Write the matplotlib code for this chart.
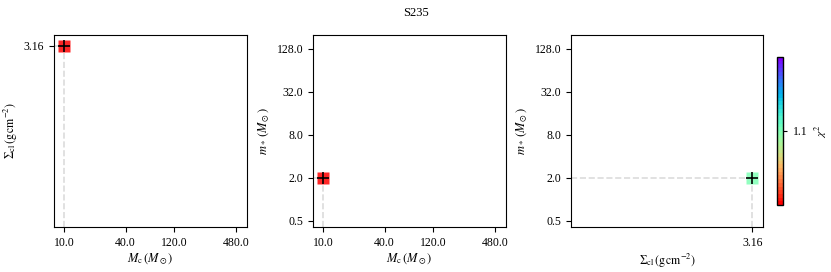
import matplotlib
matplotlib.use("Agg")
import matplotlib.pyplot as plt
import numpy as np
from matplotlib.colors import Normalize
from matplotlib.cm import ScalarMappable

plt.rcParams['font.family'] = ['Liberation Serif', 'DejaVu Serif']
plt.rcParams['mathtext.fontset'] = 'stix'
plt.rcParams['font.size'] = 8

title = "S235"
Mc = [10.0]
sigma_cl = [3.16]
mstar = [2.0]
chi2 = [1.1]

mc_ticks = [10.0, 40.0, 120.0, 480.0]
ms_ticks = [0.5, 2.0, 8.0, 32.0, 128.0]
sig_ticks = [3.16]
cb_ticks = [1.1]

mc_lim = (8.0, 615.0)
ms_lim = (0.41, 200.0)
sig_lim = (0.08, 3.93)

FS = 8.5

fig = plt.figure(figsize=(8.31, 2.72), dpi=100)
W, H = 831, 272
def pos(l, t, r, b):
    return [l / W, (H - b) / H, (r - l) / W, (b - t) / H]

ax1 = fig.add_axes(pos(54, 35, 247, 227))
ax2 = fig.add_axes(pos(313, 35, 506, 227))
ax3 = fig.add_axes(pos(571, 35, 763, 227))
cax = fig.add_axes(pos(777, 57, 783, 205))

cmap = plt.get_cmap('rainbow_r')
norm = Normalize(vmin=1.0, vmax=1.2)
dash = dict(color='#dcdcdc', ls='--', lw=1.2, zorder=1)

def style(ax, xt, yt, xlim, ylim):
    ax.set_xscale('log'); ax.set_yscale('log')
    ax.set_xlim(*xlim); ax.set_ylim(*ylim)
    ax.set_xticks(xt); ax.set_xticklabels([str(v) for v in xt])
    ax.set_yticks(yt); ax.set_yticklabels([str(v) for v in yt])
    ax.minorticks_off()
    ax.tick_params(labelsize=FS)

# Panel 1
style(ax1, mc_ticks, sig_ticks, mc_lim, sig_lim)
ax1.plot([Mc[0], Mc[0]], [sig_lim[0], sigma_cl[0]], **dash)
ax1.plot([mc_lim[0], Mc[0]], [sigma_cl[0], sigma_cl[0]], **dash)
ax1.plot(Mc, sigma_cl, 's', color=cmap(0.0), alpha=0.85, ms=8, mec='none', zorder=2)
ax1.plot(Mc, sigma_cl, '+', color='k', ms=9, mew=1.2, zorder=3)
ax1.set_xlabel(r'$M_{\rm c}\,(M_\odot)$', fontsize=9, labelpad=2)
ax1.set_ylabel(r'$\Sigma_{\rm cl}\,({\rm g\,cm^{-2}})$', fontsize=FS, labelpad=3)

# Panel 2
style(ax2, mc_ticks, ms_ticks, mc_lim, ms_lim)
ax2.plot([Mc[0], Mc[0]], [ms_lim[0], mstar[0]], **dash)
ax2.plot([mc_lim[0], Mc[0]], [mstar[0], mstar[0]], **dash)
ax2.plot(Mc, mstar, 's', color=cmap(0.0), alpha=0.85, ms=8, mec='none', zorder=2)
ax2.plot(Mc, mstar, '+', color='k', ms=9, mew=1.2, zorder=3)
ax2.set_xlabel(r'$M_{\rm c}\,(M_\odot)$', fontsize=9, labelpad=2)
ax2.set_ylabel(r'$m_*\,(M_\odot)$', fontsize=9, labelpad=3)

# Panel 3
style(ax3, sig_ticks, ms_ticks, sig_lim, ms_lim)
ax3.plot([sigma_cl[0], sigma_cl[0]], [ms_lim[0], mstar[0]], **dash)
ax3.plot([sig_lim[0], sigma_cl[0]], [mstar[0], mstar[0]], **dash)
ax3.plot(sigma_cl, mstar, 's', color=cmap(norm(chi2[0])), alpha=0.85, ms=8, mec='none', zorder=2)
ax3.plot(sigma_cl, mstar, '+', color='k', ms=9, mew=1.2, zorder=3)
ax3.set_xlabel(r'$\Sigma_{\rm cl}\,({\rm g\,cm^{-2}})$', fontsize=FS, labelpad=2)
ax3.set_ylabel(r'$m_*\,(M_\odot)$', fontsize=9, labelpad=3)

sm = ScalarMappable(norm=norm, cmap=plt.get_cmap('rainbow_r', 40))
cb = fig.colorbar(sm, cax=cax)
cb.set_ticks(cb_ticks)
cb.set_ticklabels([str(v) for v in cb_ticks])
cb.ax.tick_params(labelsize=FS, length=3, pad=4)
cb.outline.set_linewidth(1.0)
cb.set_label(r'$\chi^2$', fontsize=FS, labelpad=4)

fig.suptitle(title, fontsize=9, y=0.975)

fig.savefig('out.png', dpi=100)
